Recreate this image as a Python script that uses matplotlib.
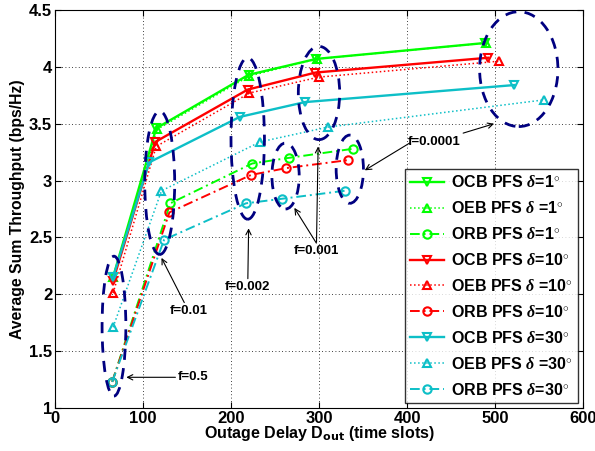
import numpy as np
import matplotlib
matplotlib.use("Agg")
import matplotlib.pyplot as plt
from matplotlib.patches import Ellipse

plt.rcParams['font.family'] = ['Liberation Sans', 'DejaVu Sans']
plt.rcParams['font.weight'] = 'bold'
plt.rcParams['mathtext.fontset'] = 'custom'
plt.rcParams['mathtext.rm'] = 'Liberation Serif'
plt.rcParams['mathtext.it'] = 'Liberation Serif:italic'

# outage delay (x) and sum throughput (y) for f = 0.5, 0.01, 0.002, 0.001, 0.0001
ocb1_x = [66, 115, 220, 297, 489]
ocb1_y = [2.15, 3.46, 3.93, 4.07, 4.21]
oeb1_x = [66, 116, 221, 298, 490]
oeb1_y = [2.15, 3.45, 3.92, 4.07, 4.21]
orb1_x = [65, 131, 224, 266, 339]
orb1_y = [1.23, 2.80, 3.15, 3.20, 3.28]

ocb10_x = [66, 114, 219, 296, 492]
ocb10_y = [2.12, 3.34, 3.80, 3.95, 4.08]
oeb10_x = [66, 115, 221, 300, 505]
oeb10_y = [2.01, 3.30, 3.77, 3.91, 4.05]
orb10_x = [65, 130, 223, 263, 333]
orb10_y = [1.23, 2.72, 3.05, 3.11, 3.18]

ocb30_x = [66, 107, 210, 284, 522]
ocb30_y = [2.15, 3.16, 3.56, 3.69, 3.84]
oeb30_x = [66, 121, 233, 310, 556]
oeb30_y = [1.71, 2.91, 3.34, 3.47, 3.71]
orb30_x = [65, 124, 217, 258, 329]
orb30_y = [1.23, 2.48, 2.80, 2.84, 2.91]

labels = [r'OCB PFS $\delta$=1$^{\circ}$', r'OEB PFS $\delta$ =1$^{\circ}$', r'ORB PFS $\delta$=1$^{\circ}$',
          r'OCB PFS $\delta$=10$^{\circ}$', r'OEB PFS $\delta$ =10$^{\circ}$', r'ORB PFS $\delta$=10$^{\circ}$',
          r'OCB PFS $\delta$=30$^{\circ}$', r'OEB PFS $\delta$ =30$^{\circ}$', r'ORB PFS $\delta$=30$^{\circ}$']

green = (0, 1, 0)
red = (1, 0, 0)
cyan = (0.05, 0.75, 0.78)
navy = (0, 0, 0.5)

fig = plt.figure(figsize=(5.95, 4.51), dpi=100)
ax = fig.add_axes([55 / 595, 1 - 408 / 451, 528 / 595, 398 / 451])

series = [
    (ocb1_x, ocb1_y, green, '-', 'v', 1.7),
    (oeb1_x, oeb1_y, green, ':', '^', 1.1),
    (orb1_x, orb1_y, green, (0, (5, 2, 1, 2)), 'o', 1.4),
    (ocb10_x, ocb10_y, red, '-', 'v', 1.7),
    (oeb10_x, oeb10_y, red, ':', '^', 1.1),
    (orb10_x, orb10_y, red, (0, (5, 2, 1, 2)), 'o', 1.4),
    (ocb30_x, ocb30_y, cyan, '-', 'v', 1.7),
    (oeb30_x, oeb30_y, cyan, ':', '^', 1.1),
    (orb30_x, orb30_y, cyan, (0, (5, 2, 1, 2)), 'o', 1.4),
]
for (x, y, c, ls, m, lw), lab in zip(series, labels):
    ax.plot(x, y, color=c, linestyle=ls, marker=m, lw=lw, markersize=6,
            markerfacecolor='none', markeredgewidth=1.5, label=lab)

# dashed ellipses grouping points of the same f
ellipses = [(67, 1.72, 27, 1.23), (119, 2.98, 34, 1.26), (219, 3.37, 38, 1.42),
            (262, 3.04, 31, 0.58), (300, 3.77, 47, 0.82), (335, 3.10, 31, 0.60),
            (527, 3.98, 89, 1.01)]
for cx, cy, w, h in ellipses:
    ax.add_patch(Ellipse((cx, cy), w, h, fill=False, edgecolor=navy, lw=2,
                         linestyle=(0, (4, 3)), zorder=5))

arr = dict(arrowstyle='->', color='black', lw=0.8, shrinkA=0, shrinkB=0)
fs = 9.5
ax.annotate('f=0.5', xy=(81, 1.27), xytext=(140, 1.27), fontsize=fs, va='center', arrowprops=arr)
ax.annotate('f=0.01', xy=(121, 2.32), xytext=(152, 1.85), fontsize=fs, ha='center', va='center', arrowprops=arr)
ax.annotate('f=0.002', xy=(220, 2.58), xytext=(219, 2.06), fontsize=fs, ha='center', va='center', arrowprops=arr)
ax.annotate('f=0.001', xy=(299, 3.30), xytext=(297, 2.38), fontsize=fs, ha='center', va='center', arrowprops=arr)
ax.annotate('', xy=(272, 2.76), xytext=(297, 2.45), arrowprops=arr)
ax.annotate('f=0.0001', xy=(499, 3.50), xytext=(431, 3.34), fontsize=fs, ha='center', va='center', arrowprops=arr)
ax.annotate('', xy=(352, 3.09), xytext=(403, 3.33), arrowprops=arr)

ax.set_xlim(0, 600)
ax.set_ylim(1, 4.5)
ax.set_xticks(np.arange(0, 601, 100))
ax.set_yticks(np.arange(1, 4.51, 0.5))
ax.set_yticklabels(['1', '1.5', '2', '2.5', '3', '3.5', '4', '4.5'])
ax.tick_params(direction='in', length=4, top=True, right=True, labelsize=12, pad=2)
for lab in ax.get_xticklabels() + ax.get_yticklabels():
    lab.set_fontweight('bold')
ax.grid(True, linestyle=(0, (1, 3)), color='black', lw=0.6)

ax.set_xlabel(r'Outage Delay D$_{\mathbf{out}}$ (time slots)', fontsize=11.5, fontweight='bold', labelpad=-1)
ax.set_ylabel('Average Sum Throughput (bps/Hz)', fontsize=11.3, fontweight='bold', labelpad=3)

leg = ax.legend(loc='lower right', fontsize=11.5, frameon=True, fancybox=False,
                edgecolor='black', borderaxespad=0.3, handlelength=2.1,
                labelspacing=0.62, borderpad=0.35, handletextpad=0.45)
leg.get_frame().set_linewidth(1.0)
for t in leg.get_texts():
    t.set_fontweight('bold')

fig.savefig('out.png', dpi=100)
